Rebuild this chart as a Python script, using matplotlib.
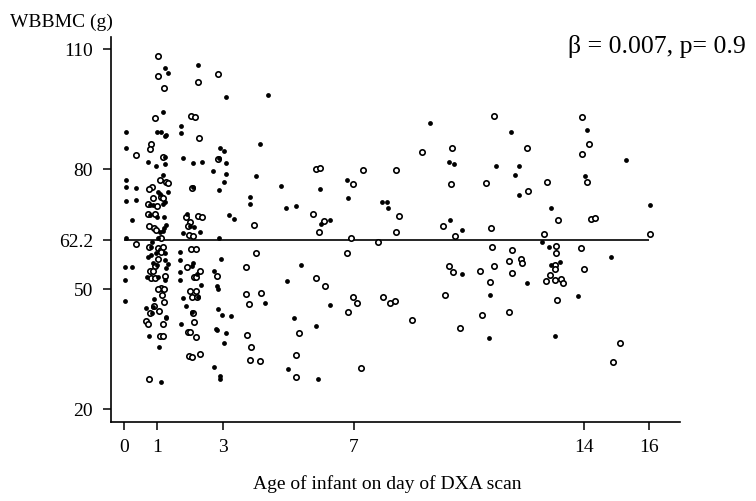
import matplotlib
matplotlib.use("Agg")
import matplotlib.pyplot as plt

plt.rcParams['font.family'] = ['Liberation Serif', 'DejaVu Serif']

# ---------------- data (age in days, WBBMC in g) ----------------
age_open = [
    1.02, 1.02, 1.20, 2.24, 2.87, 0.94, 2.04, 2.17, 2.28, 0.82,
    0.78, 0.35, 1.17, 2.85, 1.08, 1.27, 1.33, 0.84, 0.76, 2.08,
    0.88, 1.11, 1.19, 0.74, 1.00, 0.72, 0.94, 1.87, 2.26, 2.36,
    0.76, 0.90, 0.98, 2.02, 1.94, 3.96, 1.98, 2.10, 1.12, 0.35,
    0.76, 1.02, 1.12, 1.17, 1.11, 2.04, 2.18, 4.02, 1.02, 0.94,
    1.91, 3.72, 0.78, 0.88, 2.30, 0.82, 0.94, 1.23, 2.12, 2.20,
    2.83, 1.12, 1.02, 1.21, 2.00, 2.20, 3.72, 4.16, 1.14, 2.08,
    2.22, 1.21, 3.80, 0.92, 1.06, 0.78, 2.10, 0.68, 0.72, 1.19,
    2.14, 1.96, 2.02, 3.74, 5.32, 1.08, 1.17, 2.20, 3.86, 1.98,
    2.06, 2.32, 5.24, 3.82, 4.14, 5.24, 0.76,
    11.26, 12.27, 9.07, 10.00, 5.83, 5.97, 7.28, 8.28, 6.98, 9.94,
    11.01, 12.29, 5.74, 8.36, 6.09, 9.72, 11.16, 5.95, 8.29, 6.90,
    10.08, 7.73, 6.80, 11.20, 11.82, 9.88, 10.02, 10.83, 11.26, 11.72,
    12.09, 12.11, 11.82, 5.83, 6.11, 11.14, 6.98, 7.10, 7.89, 8.10,
    8.26, 9.76, 6.82, 11.72, 10.91, 8.76, 10.22, 7.22,
    13.95, 14.17, 13.93, 14.09, 12.88, 13.20, 14.21, 14.34, 12.80, 16.02,
    13.16, 13.16, 13.91, 13.12, 13.12, 14.01, 12.98, 12.86, 13.12, 13.30,
    13.36, 13.17, 15.11, 14.89,
]
bmc_open = [
    108.3, 103.4, 100.4, 101.8, 103.8, 92.8, 93.3, 93.0, 87.9, 86.2,
    85.1, 83.5, 83.1, 82.6, 77.3, 76.9, 76.6, 75.6, 75.0, 75.2,
    72.7, 73.1, 72.7, 71.4, 70.8, 68.9, 68.8, 68.1, 68.3, 68.1,
    65.8, 65.4, 64.8, 66.9, 65.8, 66.1, 63.6, 63.3, 62.9, 61.3,
    60.4, 60.2, 59.8, 60.4, 59.3, 59.9, 59.9, 58.9, 57.6, 55.8,
    55.6, 55.4, 54.6, 54.6, 54.5, 52.7, 52.7, 53.3, 52.9, 53.1,
    53.3, 50.3, 49.9, 49.9, 49.5, 49.5, 48.8, 48.9, 48.6, 47.9,
    47.9, 46.8, 46.2, 45.8, 44.5, 43.9, 43.9, 41.9, 41.3, 41.2,
    41.8, 39.3, 39.3, 38.6, 38.9, 38.3, 38.3, 38.1, 35.6, 33.3,
    33.1, 33.8, 33.6, 32.3, 31.9, 28.1, 27.5,
    93.3, 85.4, 84.4, 85.3, 80.1, 80.4, 79.9, 79.9, 76.2, 76.3,
    76.6, 74.6, 68.8, 68.3, 67.1, 65.8, 65.3, 64.3, 64.3, 62.8,
    63.3, 61.7, 59.0, 60.4, 59.8, 55.7, 54.2, 54.5, 55.8, 56.9,
    57.4, 56.6, 54.1, 52.8, 50.8, 51.7, 47.9, 46.6, 47.9, 46.6,
    47.1, 48.4, 44.2, 44.2, 43.5, 42.3, 40.3, 30.3,
    93.1, 86.4, 83.9, 76.8, 76.7, 67.2, 67.6, 67.8, 63.8, 63.8,
    60.7, 59.0, 60.3, 56.1, 54.9, 55.1, 53.5, 52.0, 52.3, 52.6,
    51.4, 47.3, 36.5, 31.8,
]

age_filled = [
    1.23, 1.33, 2.24, 3.09, 4.38, 1.19, 0.07, 0.99, 1.12, 1.23,
    1.27, 1.73, 1.73, 4.13, 0.05, 2.93, 3.05, 1.25, 1.79, 0.74,
    1.25, 2.10, 2.38, 2.89, 3.11, 0.96, 2.71, 1.17, 3.11, 4.02,
    0.05, 3.05, 0.05, 0.37, 2.10, 4.77, 2.89, 1.04, 1.08, 1.33,
    0.35, 3.84, 0.05, 0.78, 0.88, 1.18, 1.25, 0.80, 1.00, 1.21,
    0.23, 1.91, 3.20, 3.35, 3.82, 4.93, 5.22, 1.08, 1.21, 1.29,
    1.17, 2.02, 2.14, 1.79, 2.32, 1.02, 0.86, 0.05, 2.89, 0.82,
    0.98, 1.25, 1.69, 0.72, 0.82, 1.23, 1.71, 2.95, 0.88, 1.00,
    1.33, 1.29, 2.10, 2.06, 0.03, 0.23, 1.71, 2.22, 2.73, 0.03,
    0.70, 1.02, 1.25, 1.71, 4.97, 2.34, 2.83, 2.87, 1.79, 2.26,
    0.03, 0.90, 4.29, 0.68, 0.88, 1.89, 2.85, 0.84, 2.06, 2.99,
    3.25, 1.29, 1.27, 5.18, 1.73, 2.83, 2.81, 3.11, 0.76, 3.03,
    1.06, 2.75, 4.99, 2.93, 2.93, 1.12,
    9.31, 11.78, 9.90, 10.04, 11.34, 12.03, 6.80, 5.97, 6.82, 11.90,
    12.03, 7.85, 8.01, 8.05, 6.01, 6.27, 9.92, 10.30, 5.38, 10.30,
    12.27, 6.27, 11.14, 5.85, 11.11, 5.91,
    14.09, 15.29, 14.05, 13.00, 16.02, 12.72, 12.94, 14.84, 13.26, 13.00,
    13.82, 13.12,
]
bmc_filled = [
    105.3, 104.1, 106.0, 98.1, 98.6, 94.3, 89.3, 89.3, 89.2, 88.3,
    88.6, 90.8, 89.1, 86.4, 85.4, 85.3, 84.6, 83.1, 82.9, 81.8,
    81.4, 81.6, 81.9, 82.8, 81.6, 80.8, 79.5, 78.6, 78.7, 78.2,
    77.3, 76.8, 75.6, 75.2, 75.6, 75.8, 74.8, 74.3, 73.9, 74.3,
    72.4, 73.0, 72.1, 71.1, 71.0, 71.3, 71.8, 68.5, 68.1, 68.1,
    67.4, 68.8, 68.5, 67.5, 71.3, 70.4, 70.8, 64.3, 65.2, 66.0,
    64.6, 65.9, 65.6, 64.1, 64.2, 62.7, 61.8, 62.9, 62.8, 60.6,
    59.1, 58.9, 59.3, 58.1, 58.5, 57.3, 57.2, 57.6, 56.4, 56.0,
    56.3, 55.2, 56.4, 55.8, 55.4, 55.4, 54.3, 53.8, 54.5, 52.3,
    52.9, 52.9, 52.3, 52.3, 52.0, 51.1, 50.8, 50.1, 47.8, 48.1,
    46.9, 47.6, 46.4, 45.3, 45.6, 45.8, 45.1, 44.1, 44.3, 43.4,
    43.3, 43.1, 42.7, 42.8, 41.3, 39.8, 40.1, 39.1, 38.2, 36.4,
    35.6, 30.6, 29.9, 28.3, 27.6, 26.8,
    91.6, 89.3, 81.8, 81.4, 80.8, 80.9, 77.4, 75.1, 72.9, 78.5,
    73.6, 71.9, 71.9, 70.4, 66.3, 67.3, 67.4, 64.8, 56.1, 53.8,
    51.6, 46.1, 48.5, 40.8, 37.8, 27.6,
    89.8, 82.3, 78.4, 70.3, 71.0, 61.8, 60.4, 58.0, 56.8, 56.1,
    48.2, 38.2,
]

mean_bmc = 62.2
mean_line_span = [0, 16]
x_ticks = [0, 1, 3, 7, 14, 16]
y_ticks = [20, 50, 62.2, 80, 110]
y_tick_labels = ['20', '50', '62.2', '80', '110']
y_label = 'WBBMC (g)'
x_label = 'Age of infant on day of DXA scan'
stat_text = 'β = 0.007, p= 0.9'

# ---------------- figure ----------------
fig = plt.figure(figsize=(7.56, 5.01), dpi=100)
ax = fig.add_axes([0.1468, 0.1577, 0.7527, 0.768])

ax.hlines(mean_bmc, mean_line_span[0], mean_line_span[1], color='black', lw=1.2, zorder=1)
ax.scatter(age_open, bmc_open, s=15, facecolors='white', edgecolors='black',
           linewidths=1.2, zorder=3)
ax.scatter(age_filled, bmc_filled, s=12, color='black', linewidths=0, zorder=3)

ax.set_xlim(-0.4, 16.93)
ax.set_ylim(16.75, 113)
ax.set_xticks(x_ticks)
ax.set_xticklabels([str(t) for t in x_ticks])
ax.set_yticks(y_ticks)
ax.set_yticklabels(y_tick_labels)

for s in ['top', 'right']:
    ax.spines[s].set_visible(False)
for s in ['left', 'bottom']:
    ax.spines[s].set_linewidth(1.2)

ax.tick_params(axis='both', direction='out', length=6, width=1.1, labelsize=14,
               colors='black')
ax.tick_params(axis='y', pad=7)
ax.tick_params(axis='x', pad=6)

fig.text(0.013, 0.946, y_label, fontsize=14, va='baseline', ha='left')
fig.text(0.512, 0.024, x_label, fontsize=14, va='baseline', ha='center')
fig.text(0.751, 0.894, stat_text, fontsize=18.5, va='baseline', ha='left')

fig.savefig('out.png', dpi=100)
